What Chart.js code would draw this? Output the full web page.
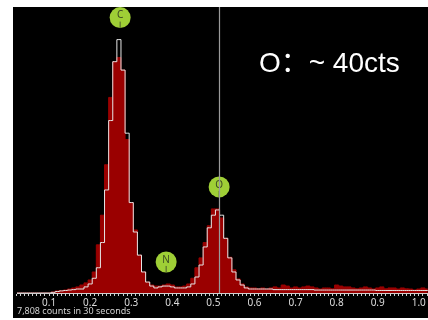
<!DOCTYPE html>
<html>
<head>
<meta charset="utf-8">
<script src="https://cdn.jsdelivr.net/npm/chart.js@4/dist/chart.umd.min.js"></script>
<style>
  html, body { margin: 0; padding: 0; background: #fff; }
  #panel { position: absolute; left: 13px; top: 7px; width: 415px; height: 311px; background: #000; }
</style>
</head>
<body>
<div id="panel"><canvas id="espectro" width="415" height="311"></canvas></div>
<script>
// bins de 0.01 keV, centro del primer bin en 0.02
const binStart = 0.02;
const binWidth = 0.01;

// espectro actual (relleno rojo), cuentas por bin 0.02 .. 1.03
const redCounts = [
  0, 0, 0, 0, 0, 0, 0, 0, 0,
  0.5, 1.0, 1.2, 1.4, 1.9, 2.4, 2.9, 3.8, 4.8, 6.2,
  10, 22.9, 37, 61, 93, 110, 112, 106, 73, 43,
  30, 18, 10, 5.2, 3.8, 3.3, 3.3, 3.8, 4.3, 3.8,
  2.9, 2.9, 3.3, 4.3, 7, 12, 16.7, 24, 32, 40,
  40, 35.7, 26, 17, 11, 6.7, 4.3, 2.9, 2.4,
  2.4, 2.0, 2.4, 1.9, 2.4, 2.9, 2.4, 3.8, 3.3, 2.4,
  2.9, 2.4, 2.9, 3.3, 2.9, 2.4, 1.9, 2.4, 2.4, 2.0,
  3.8, 3.3, 2.9, 2.9, 2.4, 2.0, 2.4, 2.9, 2.4, 1.9,
  2.4, 2.9, 2.0, 2.4, 2.4, 1.9, 2.4, 2.0, 1.9, 1.4,
  1.9, 2.4, 1.9, 1.9
];

// espectro de referencia (contorno blanco)
const whiteCounts = [
  0, 0, 0, 0, 0, 0, 0, 0, 0,
  0.3, 0.7, 1.0, 1.2, 1.4, 1.6, 1.9, 1.9, 2.9, 4.3,
  7, 12, 24, 49, 82, 110, 120.5, 106, 76, 43,
  29, 18, 10, 5.2, 3.3, 2.4, 2.9, 3.3, 3.3, 2.9,
  2.4, 2.4, 2.4, 2.9, 4.3, 7.6, 13.3, 21.9, 31, 37,
  39.5, 37, 26, 16.7, 10, 6.2, 3.8, 2.4, 1.9,
  1.9, 1.9, 1.9, 1.9, 1.9, 1.6, 1.6, 1.6, 1.6, 1.6,
  1.6, 1.6, 1.6, 1.6, 1.6, 1.4, 1.4, 1.4, 1.4, 1.4,
  1.4, 1.4, 1.4, 1.4, 1.4, 1.4, 1.4, 1.4, 1.4, 1.4,
  1.2, 1.2, 1.2, 1.2, 1.2, 1.2, 1.2, 1.2, 1.2, 1.2,
  1.2, 1.2, 1.2, 1.2
];

// marcadores de elementos y cursor
const elementLabels = ['C', 'N', 'O'];
const elementEnergy = [0.273, 0.385, 0.514];
const cursorEnergy = 0.514;

// etiquetas del eje x
const majorTicks = [0.1, 0.2, 0.3, 0.4, 0.5, 0.6, 0.7, 0.8, 0.9, 1.0];

const noteText = 'O：~ 40cts';
const footerText = '7,808 counts in 30 seconds';

const energies = redCounts.map((_, i) => +(binStart + i * binWidth).toFixed(2));
const redPoints = energies.map((e, i) => ({ x: e, y: redCounts[i] }));
const whitePoints = energies.map((e, i) => ({ x: e, y: whiteCounts[i] }));

//====================================
// ANOTACIONES (circulos, cursor, textos)
//====================================
const marcadores = {
    id: 'marcadores',
    afterDatasetsDraw(chart) {
        const { ctx, chartArea, scales: { x, y } } = chart;
        ctx.save();

        // circulos verdes con la letra del elemento
        elementLabels.forEach((lbl, i) => {
            const e = elementEnergy[i];
            let peak = 0;
            energies.forEach((en, j) => {
                if (Math.abs(en - e) <= 0.015) peak = Math.max(peak, whiteCounts[j], redCounts[j]);
            });
            const cx = x.getPixelForValue(e);
            const cy = y.getPixelForValue(peak) - 22;
            ctx.beginPath();
            ctx.arc(cx, cy, 10.5, 0, Math.PI * 2);
            ctx.fillStyle = '#9fcf36';
            ctx.fill();
            ctx.strokeStyle = '#4a5a2a';
            ctx.lineWidth = 1;
            ctx.beginPath();
            ctx.moveTo(cx, cy + 4);
            ctx.lineTo(cx, cy + 10.5);
            ctx.stroke();
            ctx.fillStyle = '#3c4a22';
            ctx.font = '10px "Noto Sans"';
            ctx.textAlign = 'center';
            ctx.textBaseline = 'middle';
            ctx.fillText(lbl, cx, cy - 2);
        });

        // linea del cursor
        const px = Math.round(x.getPixelForValue(cursorEnergy)) + 0.5;
        ctx.strokeStyle = '#9a9a9a';
        ctx.lineWidth = 1.2;
        ctx.beginPath();
        ctx.moveTo(px, chartArea.top);
        ctx.lineTo(px, chartArea.bottom);
        ctx.stroke();

        // texto de nota
        ctx.fillStyle = '#ffffff';
        ctx.font = '28px "Liberation Sans", "Noto Sans CJK SC", sans-serif';
        ctx.textAlign = 'right';
        ctx.textBaseline = 'alphabetic';
        ctx.fillText(noteText, chartArea.right - 28, 65);

        // pie
        ctx.fillStyle = '#d0d0d0';
        ctx.font = '9px "Noto Sans"';
        ctx.textAlign = 'left';
        ctx.fillText(footerText, 4, 307);
        ctx.restore();
    }
};

document.addEventListener('DOMContentLoaded', function () {
    const ctxEspectro = document.getElementById('espectro');
    if (!ctxEspectro) {
        console.error('No se encontró el canvas.');
        return;
    }

    new Chart(ctxEspectro, {
        type: 'line',
        data: {
            datasets: [
                {
                    label: 'Referencia',
                    data: whitePoints,
                    stepped: 'middle',
                    borderColor: '#e6e6e6',
                    borderWidth: 1,
                    pointRadius: 0,
                    fill: false
                },
                {
                    label: 'Espectro',
                    data: redPoints,
                    stepped: 'middle',
                    borderColor: '#9a0000',
                    backgroundColor: '#9a0000',
                    borderWidth: 1,
                    pointRadius: 0,
                    fill: 'origin'
                }
            ]
        },
        options: {
            responsive: false,
            animation: false,
            layout: { padding: { left: 4, right: 0, top: 0, bottom: 0 } },
            plugins: {
                legend: { display: false },
                tooltip: { enabled: false }
            },
            scales: {
                x: {
                    type: 'linear',
                    min: 9 / 411,
                    max: 420 / 411,
                    afterBuildTicks(scale) {
                        const ticks = [];
                        for (let i = 2; i <= 102; i++) ticks.push({ value: i / 100 });
                        scale.ticks = ticks;
                    },
                    afterFit(scale) { scale.height = 25; },
                    grid: { drawOnChartArea: false, tickLength: 3, tickColor: '#cfcfcf' },
                    border: { color: '#cfcfcf', width: 1 },
                    ticks: {
                        autoSkip: false,
                        maxRotation: 0,
                        padding: 1,
                        color: '#dcdcdc',
                        font: { family: 'Noto Sans', size: 10 },
                        callback: function (value) {
                            const m = majorTicks.find(t => Math.abs(t - value) < 1e-6);
                            return m !== undefined ? m.toFixed(1) : '';
                        }
                    }
                },
                y: { display: false, min: 0, max: 136 }
            }
        },
        plugins: [marcadores]
    });
});
</script>
</body>
</html>
